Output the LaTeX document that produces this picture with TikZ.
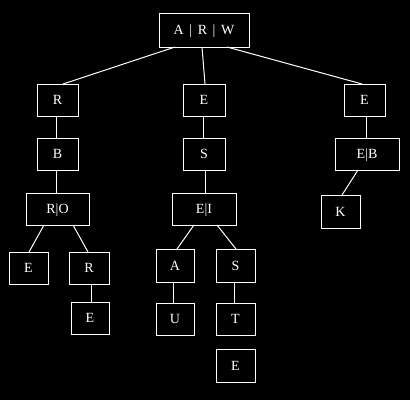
\documentclass[tikz,border=0pt]{standalone}
\usepackage{fontspec}
\setmainfont{Liberation Serif}
\begin{document}
\begin{tikzpicture}[x=1pt,y=-1pt,
  box/.style={draw=white, line width=1pt, text=white, inner sep=0pt, outer sep=0pt,
    font=\fontsize{14}{16}\selectfont, text height=9.3pt, text depth=0pt},
  edge/.style={draw=white, line width=1pt}]
\fill[black] (0,0) rectangle (410,400);
\useasboundingbox (0,0) rectangle (410,400);
% nodes
\node[box, minimum width=90pt, minimum height=34pt] (root) at (204,30) {A\hspace{0.4em}|\hspace{0.4em}R\hspace{0.4em}|\hspace{0.4em}W};
\node[box, minimum width=41pt, minimum height=32pt] (r1) at (57.5,100) {R};
\node[box, minimum width=41pt, minimum height=32pt] (b) at (57.5,154) {B};
\node[box, minimum width=63pt, minimum height=32pt] (ro) at (57.5,209) {R|O};
\node[box, minimum width=39pt, minimum height=32pt] (el) at (28.5,268) {E};
\node[box, minimum width=40pt, minimum height=32pt] (r2) at (89,268) {R};
\node[box, minimum width=38pt, minimum height=32pt] (e2) at (90,318) {E};
\node[box, minimum width=42pt, minimum height=32pt] (e1) at (204,100) {E};
\node[box, minimum width=42pt, minimum height=32pt] (s1) at (204,154) {S};
\node[box, minimum width=64pt, minimum height=32pt] (ei) at (204,209) {E|I};
\node[box, minimum width=38pt, minimum height=33pt] (a) at (175,265.5) {A};
\node[box, minimum width=39pt, minimum height=33pt] (s2) at (235.5,265.5) {S};
\node[box, minimum width=38pt, minimum height=32pt] (u) at (175,319) {U};
\node[box, minimum width=39pt, minimum height=32pt] (t) at (235.5,319) {T};
\node[box, minimum width=39pt, minimum height=33pt] (e3) at (235.5,365.5) {E};
\node[box, minimum width=41pt, minimum height=32pt] (e4) at (364.5,100) {E};
\node[box, minimum width=64pt, minimum height=32pt] (eb) at (367,154) {E|B};
\node[box, minimum width=39pt, minimum height=33pt] (k) at (340.5,211.5) {K};
% edges
\draw[edge] ([xshift=-29pt]root.south) -- ([xshift=5.5pt]r1.north);
\draw[edge] ([xshift=-2pt]root.south) -- ([xshift=1pt]e1.north);
\draw[edge] ([xshift=23pt]root.south) -- ([xshift=-2.5pt]e4.north);
\draw[edge] ([xshift=-1pt]r1.south) -- ([xshift=-1pt]b.north);
\draw[edge] ([xshift=-1pt]b.south) -- ([xshift=-1pt]ro.north);
\draw[edge] ([xshift=-13.5pt]ro.south) -- ([xshift=0.5pt]el.north);
\draw[edge] ([xshift=15.5pt]ro.south) -- ([xshift=-1pt]r2.north);
\draw[edge] ([xshift=2pt]r2.south) -- ([xshift=1pt]e2.north);
\draw[edge] ([xshift=-1pt]e1.south) -- ([xshift=-1pt]s1.north);
\draw[edge] ([xshift=1pt]s1.south) -- ([xshift=1pt]ei.north);
\draw[edge] ([xshift=-10pt]ei.south) -- ([xshift=2pt]a.north);
\draw[edge] ([xshift=13pt]ei.south) -- ([xshift=0.5pt]s2.north);
\draw[edge] ([xshift=-2pt]a.south) -- ([xshift=-2pt]u.north);
\draw[edge] ([xshift=-1.5pt]s2.south) -- ([xshift=-1.5pt]t.north);
\draw[edge] ([xshift=1.5pt]e4.south) -- ([xshift=-1pt]eb.north);
\draw[edge] ([xshift=-9pt]eb.south) -- ([xshift=1.5pt]k.north);
\end{tikzpicture}
\end{document}
